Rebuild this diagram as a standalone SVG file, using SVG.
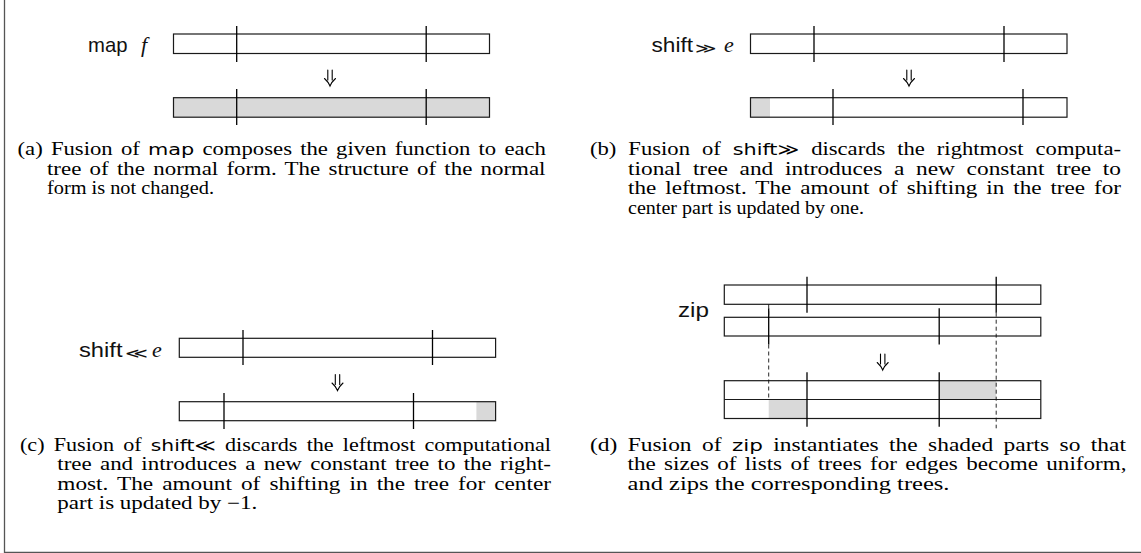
<svg xmlns="http://www.w3.org/2000/svg" width="1141" height="553" viewBox="0 0 1141 553">
  <defs>
    <style>
      .bar{fill:none;stroke:#1a1a1a;stroke-width:1.2}
      .sh{fill:#d9d9d9;stroke:none}
      .tick{stroke:#000;stroke-width:1.3}
      .dash{stroke:#111;stroke-width:0.9;stroke-dasharray:4 3}
      .arr{fill:none;stroke:#000;stroke-width:1.1;stroke-linecap:round}
      .cap{font-family:"Liberation Serif",serif;font-size:18px;fill:#000}
      .sf{font-family:"DejaVu Sans",sans-serif;font-size:16.5px}
      .lbl{font-family:"Liberation Sans",sans-serif;font-size:21px;fill:#111}
      .mi{font-family:"Liberation Serif",serif;font-style:italic;font-size:22px;fill:#111}
      .rel{font-family:"DejaVu Sans",sans-serif;font-size:14px;fill:#111}
      .frame{fill:none;stroke:#555;stroke-width:1.3}
    </style>
    <!-- double down arrow, tip at the origin -->
    <path id="dn" class="arr" d="M-2.2,-16 V-6 M2.2,-16 V-6 M-5.5,-7.5 Q-1.6,-4 0,0 Q1.6,-4 5.5,-7.5"/>
  </defs>

  <path class="frame" d="M4.5,-2 V552.3 H1143"/>

  <!-- (a) map -->
  <g id="map">
    <text class="lbl" x="88" y="51.5" textLength="39.5" lengthAdjust="spacingAndGlyphs">map</text>
    <text class="mi" x="141" y="51.5">f</text>
    <rect class="bar" x="173.5" y="34" width="316" height="19.5"/>
    <line class="tick" x1="236.7" y1="26" x2="236.7" y2="62"/>
    <line class="tick" x1="426.2" y1="26" x2="426.2" y2="62"/>
    <rect class="sh" x="173.5" y="97.7" width="316" height="19.5"/>
    <rect class="bar" x="173.5" y="97.7" width="316" height="19.5"/>
    <line class="tick" x1="236.7" y1="89" x2="236.7" y2="125"/>
    <line class="tick" x1="426.2" y1="89" x2="426.2" y2="125"/>
  </g>

  <!-- (b) shift right -->
  <g id="shift-right">
    <text class="lbl" x="651.5" y="52" textLength="41.5" lengthAdjust="spacingAndGlyphs">shift</text>
    <text class="rel" x="695" y="53" textLength="21.5" lengthAdjust="spacingAndGlyphs">≫</text>
    <text class="mi" x="724" y="52">e</text>
    <rect class="bar" x="750.5" y="34" width="316.5" height="19.5"/>
    <line class="tick" x1="814" y1="26" x2="814" y2="62"/>
    <line class="tick" x1="1004" y1="26" x2="1004" y2="62"/>
    <rect class="sh" x="750.5" y="97.7" width="19.5" height="19.5"/>
    <rect class="bar" x="750.5" y="97.7" width="316.5" height="19.5"/>
    <line class="tick" x1="833" y1="89" x2="833" y2="125"/>
    <line class="tick" x1="1023" y1="89" x2="1023" y2="125"/>
  </g>

  <!-- (c) shift left -->
  <g id="shift-left">
    <text class="lbl" x="79" y="357" textLength="43.5" lengthAdjust="spacingAndGlyphs">shift</text>
    <text class="rel" x="125" y="358" textLength="23" lengthAdjust="spacingAndGlyphs">≪</text>
    <text class="mi" x="152" y="357">e</text>
    <rect class="bar" x="179.3" y="338.3" width="316.3" height="19"/>
    <line class="tick" x1="243" y1="330" x2="243" y2="365"/>
    <line class="tick" x1="432.5" y1="330" x2="432.5" y2="365"/>
    <rect class="sh" x="476.4" y="401.7" width="19.2" height="19"/>
    <rect class="bar" x="179.3" y="401.7" width="316.3" height="19"/>
    <line class="tick" x1="224" y1="393" x2="224" y2="429"/>
    <line class="tick" x1="413.5" y1="393" x2="413.5" y2="429"/>
  </g>

  <!-- (d) zip -->
  <g id="zip">
    <text class="lbl" x="678" y="317" textLength="31" lengthAdjust="spacingAndGlyphs">zip</text>
    <rect class="bar" x="724.3" y="285" width="316.5" height="19.3"/>
    <line class="tick" x1="807" y1="276.7" x2="807" y2="312.7"/>
    <line class="tick" x1="996.2" y1="276.7" x2="996.2" y2="312.7"/>
    <rect class="bar" x="724.3" y="317.3" width="316.5" height="18.7"/>
    <line class="tick" x1="768.7" y1="308.3" x2="768.7" y2="344.5"/>
    <line class="tick" x1="939.2" y1="308.3" x2="939.2" y2="344.5"/>
    <rect class="sh" x="768.7" y="399.5" width="38.3" height="19"/>
    <rect class="sh" x="939.2" y="380.7" width="57" height="18.8"/>
    <rect class="bar" x="724.3" y="380.7" width="316.5" height="37.8"/>
    <line class="bar" x1="724.3" y1="399.5" x2="1040.8" y2="399.5"/>
    <line class="tick" x1="807" y1="372.3" x2="807" y2="426.7"/>
    <line class="tick" x1="939.2" y1="372.3" x2="939.2" y2="426.7"/>
  </g>

  <!-- transformation arrows and alignment guides -->
  <g id="connectors">
    <use href="#dn" x="330" y="86"/>
    <use href="#dn" x="909" y="86"/>
    <use href="#dn" x="337.5" y="390.5"/>
    <use href="#dn" x="882.7" y="370"/>
    <line class="dash" x1="768.7" y1="304.3" x2="768.7" y2="317.3"/>
    <line class="dash" x1="768.7" y1="344.5" x2="768.7" y2="399.5"/>
    <line class="dash" x1="996.2" y1="312.7" x2="996.2" y2="428.3"/>
  </g>

  <!-- captions: justified lines get extra word spacing, then are fitted to the column -->
  <g id="caption-a">
    <text class="cap" x="17.5" y="155" word-spacing="2" textLength="528.5" lengthAdjust="spacingAndGlyphs">(a) Fusion of <tspan class="sf">map</tspan> composes the given function to each</text>
    <text class="cap" x="47" y="174.5" word-spacing="2" textLength="498.5" lengthAdjust="spacingAndGlyphs">tree of the normal form. The structure of the normal</text>
    <text class="cap" x="47" y="194" textLength="167" lengthAdjust="spacingAndGlyphs">form is not changed.</text>
  </g>
  <g id="caption-b">
    <text class="cap" x="590" y="155" word-spacing="5" textLength="531" lengthAdjust="spacingAndGlyphs">(b) Fusion of <tspan class="sf">shift≫</tspan> discards the rightmost computa-</text>
    <text class="cap" x="628" y="174.5" word-spacing="4.5" textLength="493" lengthAdjust="spacingAndGlyphs">tional tree and introduces a new constant tree to</text>
    <text class="cap" x="628" y="194" word-spacing="2.5" textLength="493" lengthAdjust="spacingAndGlyphs">the leftmost. The amount of shifting in the tree for</text>
    <text class="cap" x="628" y="213.5" textLength="236" lengthAdjust="spacingAndGlyphs">center part is updated by one.</text>
  </g>
  <g id="caption-c">
    <text class="cap" x="20" y="450.5" word-spacing="3" textLength="531" lengthAdjust="spacingAndGlyphs">(c) Fusion of <tspan class="sf">shift≪</tspan> discards the leftmost computational</text>
    <text class="cap" x="57.3" y="470" word-spacing="2" textLength="493.7" lengthAdjust="spacingAndGlyphs">tree and introduces a new constant tree to the right-</text>
    <text class="cap" x="57.3" y="489.5" word-spacing="2.5" textLength="493.7" lengthAdjust="spacingAndGlyphs">most. The amount of shifting in the tree for center</text>
    <text class="cap" x="57.3" y="509" textLength="200" lengthAdjust="spacingAndGlyphs">part is updated by −1.</text>
  </g>
  <g id="caption-d">
    <text class="cap" x="590" y="450.5" word-spacing="3.5" textLength="536" lengthAdjust="spacingAndGlyphs">(d) Fusion of <tspan class="sf">zip</tspan> instantiates the shaded parts so that</text>
    <text class="cap" x="627.5" y="470" word-spacing="2" textLength="499" lengthAdjust="spacingAndGlyphs">the sizes of lists of trees for edges become uniform,</text>
    <text class="cap" x="627.5" y="489.5" textLength="322" lengthAdjust="spacingAndGlyphs">and zips the corresponding trees.</text>
  </g>
</svg>
